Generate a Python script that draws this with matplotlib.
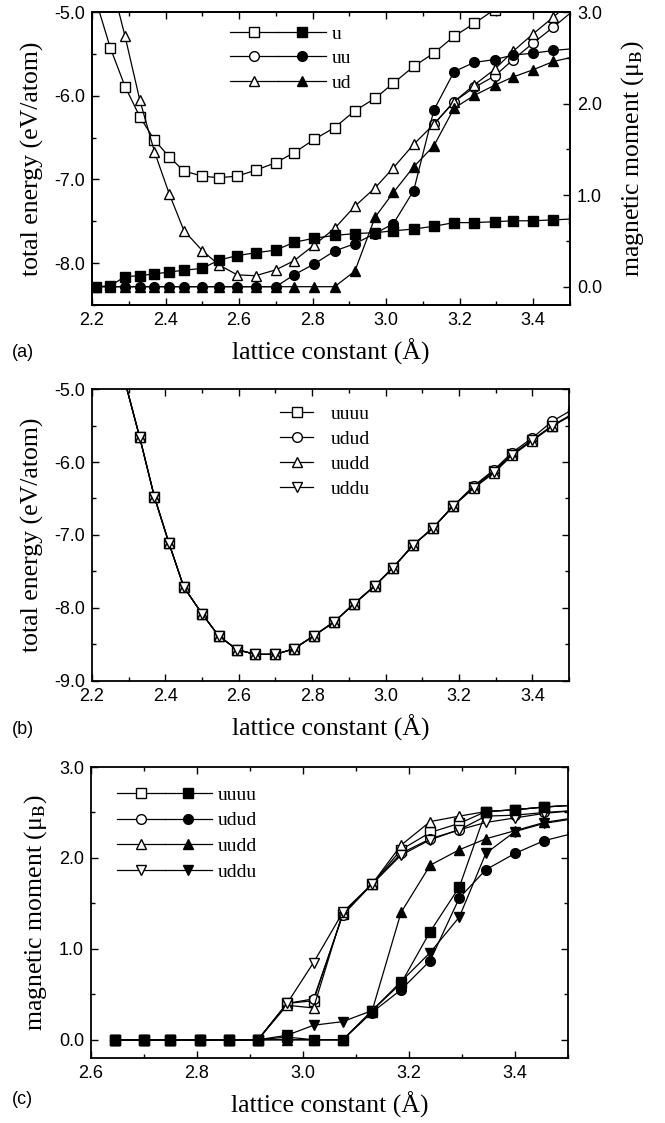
import numpy as np
import matplotlib
matplotlib.use('Agg')
import matplotlib.pyplot as plt
from matplotlib.ticker import MultipleLocator, FormatStrFormatter
from matplotlib.legend_handler import HandlerTuple

plt.rcParams['font.family'] = ['Liberation Sans', 'DejaVu Sans']
plt.rcParams['mathtext.fontset'] = 'stix'
plt.rcParams['axes.unicode_minus'] = False
plt.rcParams['xtick.direction'] = 'in'
plt.rcParams['ytick.direction'] = 'in'
plt.rcParams['axes.linewidth'] = 1.3

# ---------------- data ----------------
# (a) single chain vs. two-atom cells
a_x = [2.21, 2.25, 2.29, 2.33, 2.37, 2.41, 2.45, 2.50, 2.545, 2.595, 2.645, 2.70, 2.75,
       2.805, 2.86, 2.915, 2.97, 3.02, 3.075, 3.13, 3.185, 3.24, 3.295, 3.345, 3.40,
       3.455, 3.51]
u_E = [-4.85, -5.43, -5.89, -6.25, -6.53, -6.73, -6.90, -6.96, -6.98, -6.96, -6.89, -6.80,
       -6.68, -6.52, -6.38, -6.18, -6.03, -5.85, -5.65, -5.49, -5.29, -5.135, -4.97,
       -4.80, np.nan, np.nan, np.nan]
ud_E = [np.nan, -4.60, -5.29, -6.05, -6.67, -7.17, -7.61, -7.85, -8.02, -8.14, -8.15, -8.08,
        -7.97, -7.78, -7.585, -7.32, -7.10, -6.86, -6.58, -6.34, -6.07, -5.87, -5.685,
        -5.47, -5.26, -5.06, -4.85]
# uu energy lies under the ud curve up to ~3.15 A
uu_E = [np.nan, np.nan, np.nan, np.nan, np.nan, np.nan, np.nan, np.nan, np.nan, np.nan,
        np.nan, np.nan, np.nan, np.nan, np.nan, np.nan, np.nan, np.nan, np.nan, -6.34,
        -6.07, -5.90, -5.765, -5.57, -5.37, -5.18, -4.98]
u_M = [0.0, 0.01, 0.11, 0.12, 0.14, 0.16, 0.18, 0.20, 0.29, 0.34, 0.37, 0.40, 0.485, 0.53,
       0.56, 0.58, 0.59, 0.61, 0.63, 0.66, 0.70, 0.70, 0.71, 0.72, 0.72, 0.73, 0.74]
uu_M = [0.0, 0.0, 0.0, 0.0, 0.0, 0.0, 0.0, 0.0, 0.0, 0.0, 0.0, 0.0, 0.13, 0.25, 0.39, 0.47,
        0.58, 0.69, 1.05, 1.93, 2.35, 2.45, 2.48, 2.53, 2.55, 2.58, 2.60]
ud_M = [0.0, 0.0, 0.0, 0.0, 0.0, 0.0, 0.0, 0.0, 0.0, 0.0, 0.0, 0.0, 0.0, 0.0, 0.0, 0.17,
        0.76, 1.03, 1.31, 1.54, 1.95, 2.09, 2.20, 2.29, 2.37, 2.46, 2.51]

# (b) four-atom cells, total energy
b_x = [2.29, 2.33, 2.37, 2.41, 2.45, 2.50, 2.545, 2.595, 2.645, 2.70, 2.75, 2.805, 2.86,
       2.915, 2.97, 3.02, 3.075, 3.13, 3.185, 3.24, 3.295, 3.345, 3.40, 3.455, 3.51]
b_common = [-4.90, -5.66, -6.475, -7.115, -7.71, -8.08, -8.38, -8.57, -8.635, -8.635, -8.56,
            -8.38, -8.19, -7.94, -7.70, -7.45, -7.14, -6.90, -6.60]
uuuu_E = b_common + [-6.34, -6.12, -5.89, -5.70, -5.50, -5.34]
udud_E = b_common + [-6.33, -6.11, -5.87, -5.67, -5.44, -5.28]
uudd_E = b_common + [-6.36, -6.15, -5.91, -5.71, -5.51, -5.35]
uddu_E = b_common + [-6.35, -6.14, -5.90, -5.70, -5.50, -5.35]

# (c) four-atom cells, magnetic moments (open / filled symbols)
c_x = [2.645, 2.70, 2.75, 2.805, 2.86, 2.915, 2.97, 3.02, 3.075, 3.13, 3.185, 3.24, 3.295,
       3.345, 3.40, 3.455, 3.51]
uuuu_o = [0, 0, 0, 0, 0, 0, 0.40, 0.43, 1.38, 1.71, 2.09, 2.28, 2.38, 2.51, 2.53, 2.56, 2.58]
uuuu_f = [0, 0, 0, 0, 0, 0, 0.03, 0.0, 0.0, 0.32, 0.62, 1.19, 1.68, 2.51, 2.53, 2.56, 2.58]
udud_o = [0, 0, 0, 0, 0, 0, 0.40, 0.45, 1.37, 1.71, 2.05, 2.21, 2.31, 2.46, 2.47, 2.50, 2.52]
udud_f = [0, 0, 0, 0, 0, 0, 0.0, 0.0, 0.0, 0.30, 0.55, 0.87, 1.56, 1.87, 2.05, 2.19, 2.27]
uudd_o = [0, 0, 0, 0, 0, 0, 0.38, 0.35, 1.40, 1.71, 2.14, 2.40, 2.46, 2.51, 2.53, 2.56, 2.58]
uudd_f = [0, 0, 0, 0, 0, 0, 0.0, 0.0, 0.0, 0.31, 1.40, 1.92, 2.09, 2.21, 2.30, 2.39, 2.44]
uddu_o = [0, 0, 0, 0, 0, 0, 0.40, 0.85, 1.40, 1.71, 2.03, 2.20, 2.31, 2.39, 2.44, 2.49, 2.52]
uddu_f = [0, 0, 0, 0, 0, 0, 0.05, 0.16, 0.20, 0.32, 0.64, 0.96, 1.35, 2.05, 2.29, 2.38, 2.43]

# ---------------- style ----------------
serif = ['Liberation Serif', 'DejaVu Serif']
lab_size = 18.5
tick_size = 13
leg_prop = {'family': serif, 'size': 14}
open_kw = dict(color='black', lw=0.9, mfc='white', mec='black', mew=1.0)
fill_kw = dict(color='black', lw=0.9, mfc='black', mec='black', mew=1.0)
ms = {'s': 6.5, 'o': 7, '^': 7.5, 'v': 7.5}


def style_axis(ax, right=True):
    ax.tick_params(which='both', top=True, right=right, labelsize=tick_size, width=1.0)
    ax.tick_params(which='major', length=5, pad=5)
    ax.tick_params(which='minor', length=3)
    ax.xaxis.set_major_locator(MultipleLocator(0.2))
    ax.xaxis.set_minor_locator(MultipleLocator(0.1))
    ax.yaxis.set_major_locator(MultipleLocator(1.0))
    ax.yaxis.set_minor_locator(MultipleLocator(0.5))
    ax.xaxis.set_major_formatter(FormatStrFormatter('%.1f'))
    ax.yaxis.set_major_formatter(FormatStrFormatter('%.1f'))


xlab = 'lattice constant (Å)'
mlab = r'magnetic moment (μ$_\mathrm{B}$)'

fig = plt.figure(figsize=(6.65, 11.23), dpi=100)

# ---------------- (a) ----------------
ax_a = fig.add_axes([0.1383, 0.7284, 0.7188, 0.2609])
ax_m = ax_a.twinx()
lo_u, = ax_a.plot(a_x, u_E, marker='s', ms=ms['s'], **open_kw)
lo_uu, = ax_a.plot(a_x, uu_E, marker='o', ms=ms['o'], **open_kw)
lo_ud, = ax_a.plot(a_x, ud_E, marker='^', ms=ms['^'], **open_kw)
lf_u, = ax_m.plot(a_x, u_M, marker='s', ms=ms['s'], **fill_kw)
lf_uu, = ax_m.plot(a_x, uu_M, marker='o', ms=ms['o'], **fill_kw)
lf_ud, = ax_m.plot(a_x, ud_M, marker='^', ms=ms['^'], **fill_kw)
ax_a.set_xlim(2.2, 3.5)
ax_a.set_ylim(-8.5, -5.0)
ax_m.set_ylim(-0.2, 3.0)
style_axis(ax_a, right=False)
style_axis(ax_m)
ax_m.tick_params(which='both', left=False, top=False)
ax_a.set_xlabel(xlab, family=serif, size=lab_size, labelpad=7)
ax_a.set_ylabel('total energy (eV/atom)', family=serif, size=lab_size, labelpad=7)
ax_m.set_ylabel(mlab, family=serif, size=lab_size, labelpad=12, rotation=90)
ax_m.legend([(lo_u, lf_u), (lo_uu, lf_uu), (lo_ud, lf_ud)], ['u', 'uu', 'ud'],
            handler_map={tuple: HandlerTuple(ndivide=None, pad=0)},
            loc='upper left', bbox_to_anchor=(0.265, 0.995), frameon=False,
            handlelength=4.9, handletextpad=0.3, labelspacing=0.35, numpoints=1,
            prop=leg_prop, borderaxespad=0.2)

# ---------------- (b) ----------------
ax_b = fig.add_axes([0.1383, 0.3936, 0.7173, 0.2600])
ax_b.plot(b_x, uuuu_E, marker='s', ms=ms['s'], label='uuuu', **open_kw)
ax_b.plot(b_x, udud_E, marker='o', ms=ms['o'], label='udud', **open_kw)
ax_b.plot(b_x, uudd_E, marker='^', ms=ms['^'], label='uudd', **open_kw)
ax_b.plot(b_x, uddu_E, marker='v', ms=ms['v'], label='uddu', **open_kw)
ax_b.set_xlim(2.2, 3.5)
ax_b.set_ylim(-9.0, -5.0)
style_axis(ax_b)
ax_b.set_xlabel(xlab, family=serif, size=lab_size, labelpad=7)
ax_b.set_ylabel('total energy (eV/atom)', family=serif, size=lab_size, labelpad=7)
ax_b.legend(loc='upper left', bbox_to_anchor=(0.37, 0.985), frameon=False,
            handlelength=1.7, handletextpad=0.9, labelspacing=0.38, numpoints=1,
            prop=leg_prop, borderaxespad=0.2)

# ---------------- (c) ----------------
ax_c = fig.add_axes([0.1368, 0.0579, 0.7173, 0.2591])
series_c = [(uuuu_o, uuuu_f, 's'), (udud_o, udud_f, 'o'),
            (uudd_o, uudd_f, '^'), (uddu_o, uddu_f, 'v')]
opens = [ax_c.plot(c_x, yo, marker=mk, ms=ms[mk], **open_kw)[0] for yo, yf, mk in series_c]
# filled circles go on top so the zero-moment points read as dots
fills = [ax_c.plot(c_x, yf, marker=mk, ms=ms[mk], zorder=3 if mk == 'o' else 2.5, **fill_kw)[0]
         for yo, yf, mk in series_c]
ax_c.set_xlim(2.6, 3.5)
ax_c.set_ylim(-0.2, 3.0)
style_axis(ax_c)
ax_c.set_xlabel(xlab, family=serif, size=lab_size, labelpad=7)
ax_c.set_ylabel(mlab, family=serif, size=lab_size, labelpad=7)
ax_c.legend(list(zip(opens, fills)), ['uuuu', 'udud', 'uudd', 'uddu'],
            handler_map={tuple: HandlerTuple(ndivide=None, pad=0)},
            loc='upper left', bbox_to_anchor=(0.03, 0.975), frameon=False,
            handlelength=4.9, handletextpad=0.3, labelspacing=0.42, numpoints=1,
            prop=leg_prop, borderaxespad=0.2)

# panel tags
for tag, yy in [('(a)', 0.686), ('(b)', 0.350), ('(c)', 0.021)]:
    fig.text(0.018, yy, tag, size=13, va='center', ha='left')

fig.savefig('out.png', dpi=100)
